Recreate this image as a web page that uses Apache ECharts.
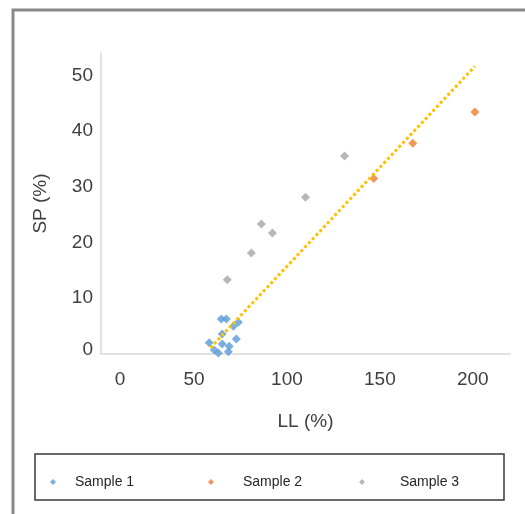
<!DOCTYPE html>
<html>
<head>
<meta charset="utf-8">
<script src="https://cdn.jsdelivr.net/npm/echarts@6/dist/echarts.min.js"></script>
<style>
html, body { margin: 0; padding: 0; background: #fff; }
#chart { width: 525px; height: 514px; }
</style>
</head>
<body>
<div id="chart"></div>
<script>
// LL (%) / SP (%) pairs
var sample1LL = [64.7, 67.4, 73.9, 71.2, 65.2, 72.8, 65.2, 58.2, 60.9, 68.5, 63.1, 69.0];
var sample1SP = [6.3, 6.3, 5.7, 5.0, 3.6, 2.7, 1.8, 2.0, 0.7, 0.4, 0.2, 1.4];
var sample2LL = [146.7, 167.7, 201.1];
var sample2SP = [31.5, 37.8, 43.4];
var sample3LL = [67.9, 80.9, 86.3, 92.2, 110.0, 131.0];
var sample3SP = [13.3, 18.1, 23.3, 21.7, 28.1, 35.5];
var trendLL = [58.8, 201.1];
var trendSP = [1.1, 51.6];
var seriesNames = ['Sample 1', 'Sample 2', 'Sample 3'];
var seriesColors = ['#5b9bd5', '#ed7d31', '#a5a5a5'];

function pairs(xs, ys) {
    return xs.map(function (x, i) { return [x, ys[i]]; });
}

var textColor = '#404040';
var font = 'Liberation Sans, Arial, sans-serif';

function legendAt(name, left, textPad) {
    return {
        data: [name],
        left: left,
        top: 470,
        icon: 'diamond',
        itemWidth: 6,
        itemHeight: 6,
        textStyle: {
            color: '#262626',
            fontFamily: font,
            fontSize: 14,
            padding: [0, 0, 0, textPad]
        }
    };
}

function scatter(i, xs, ys) {
    return {
        name: seriesNames[i],
        type: 'scatter',
        symbol: 'diamond',
        symbolSize: 9,
        itemStyle: { color: seriesColors[i] },
        data: pairs(xs, ys)
    };
}

var option = {
    animation: false,
    graphic: [{
        type: 'rect',
        shape: { x: 13, y: 10, width: 600, height: 600 },
        style: { fill: 'none', stroke: '#8a8a8a', lineWidth: 3 }
    }, {
        type: 'rect',
        shape: { x: 35, y: 454, width: 469, height: 46 },
        style: { fill: 'none', stroke: '#3a3a3a', lineWidth: 1.5 }
    }],
    legend: [
        legendAt(seriesNames[0], 45, 14),
        legendAt(seriesNames[1], 203, 24),
        legendAt(seriesNames[2], 354, 30)
    ],
    grid: { left: 101, top: 53, right: 15, bottom: 160 },
    xAxis: {
        type: 'value',
        min: 0,
        max: 220,
        interval: 50,
        name: 'LL (%)',
        nameLocation: 'middle',
        nameGap: 58,
        nameTextStyle: { color: textColor, fontFamily: font, fontSize: 19 },
        axisLine: { show: true, lineStyle: { color: '#d9d9d9', width: 1.5 } },
        axisTick: { show: false },
        splitLine: { show: false },
        axisLabel: {
            color: textColor, fontFamily: font, fontSize: 19, margin: 16,
            showMaxLabel: false,
            formatter: function (v) { return v === 0 ? '{z|0}' : v; },
            rich: { z: { color: textColor, fontFamily: font, fontSize: 19, padding: [0, 0, 0, 38] } }
        }
    },
    yAxis: {
        type: 'value',
        min: 0,
        max: 54,
        interval: 10,
        name: 'SP (%)',
        nameLocation: 'middle',
        nameGap: 51,
        nameTextStyle: { color: textColor, fontFamily: font, fontSize: 19 },
        axisLine: { show: true, lineStyle: { color: '#d9d9d9', width: 1.5 } },
        axisTick: { show: false },
        splitLine: { show: false },
        axisLabel: {
            color: textColor, fontFamily: font, fontSize: 19, margin: 8,
            showMaxLabel: false,
            formatter: function (v) { return v === 0 ? '{z|0}' : v; },
            rich: { z: { color: textColor, fontFamily: font, fontSize: 19, padding: [0, 0, 8, 0] } }
        }
    },
    series: [
        scatter(0, sample1LL, sample1SP),
        {
            name: 'trend',
            type: 'line',
            showSymbol: false,
            silent: true,
            lineStyle: { color: '#ffc000', width: 3, type: [3, 2.5] },
            data: pairs(trendLL, trendSP)
        },
        scatter(1, sample2LL, sample2SP),
        scatter(2, sample3LL, sample3SP)
    ]
};

var myChart = echarts.init(document.getElementById('chart'));
myChart.setOption(option);
</script>
</body>
</html>
